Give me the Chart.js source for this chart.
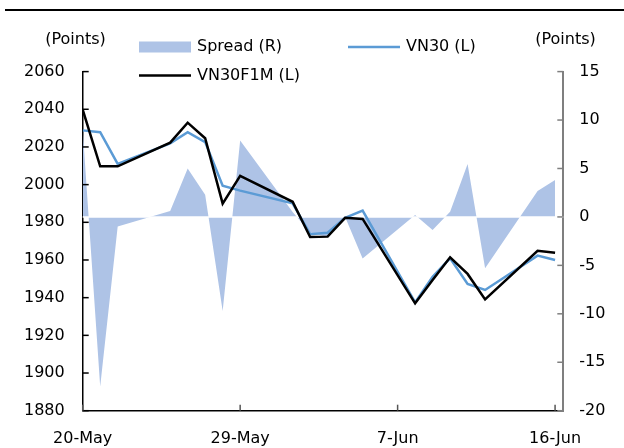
<!DOCTYPE html>
<html>
<head>
<meta charset="utf-8">
<script src="https://cdn.jsdelivr.net/npm/chart.js@4/dist/chart.umd.min.js"></script>
<style>
	html, body { margin: 0; padding: 0; background: #fff; }
	#wrap { width: 624px; height: 448px; position: relative; }
</style>
</head>
<body>
<div id="wrap"><canvas id="spreadChart"></canvas></div>
<script>
// trading days (2020)
const dates = [
	'2020-05-20', '2020-05-21', '2020-05-22', '2020-05-25', '2020-05-26',
	'2020-05-27', '2020-05-28', '2020-05-29', '2020-06-01', '2020-06-02',
	'2020-06-03', '2020-06-04', '2020-06-05', '2020-06-08', '2020-06-09',
	'2020-06-10', '2020-06-11', '2020-06-12', '2020-06-15', '2020-06-16'
];
// index closes (left axis)
const vn30 = [2028.8, 2027.8, 2011.0, 2021.9, 2027.8, 2022.6, 1999.4, 1996.8, 1990.1, 1973.7,
	1974.5, 1982.4, 1986.2, 1937.5, 1951.1, 1960.9, 1947.3, 1944.1, 1962.3, 1960.0];
const vn30f1m = [2039.8, 2009.7, 2009.7, 2022.3, 2032.9, 2024.6, 1989.9, 2004.7, 1990.9, 1972.2,
	1972.4, 1982.4, 1981.8, 1937.0, 1949.4, 1961.4, 1952.6, 1939.1, 1964.9, 1963.9];
// futures - index (right axis)
const spread = [9.0, -17.5, -1.0, 0.6, 5.0, 2.3, -9.7, 7.9, 0.5, -1.6,
	-2.1, 0.0, -4.3, 0.2, -1.35, 0.54, 5.46, -5.3, 2.68, 3.8];

// x axis ticks
const tickDates = ['2020-05-20', '2020-05-29', '2020-06-07', '2020-06-16'];
const tickLabels = ['20-May', '29-May', '7-Jun', '16-Jun'];
const axisTitle = '(Points)';

// days since first date, used as x position on the linear axis
const dayOf = s => (Date.parse(s) - Date.parse(dates[0])) / 86400000;
const xy = vals => vals.map((v, i) => ({ x: dayOf(dates[i]), y: v }));
const tickDays = tickDates.map(dayOf);

Chart.defaults.font.family = 'DejaVu Sans';
Chart.defaults.font.size = 16;
Chart.defaults.color = '#000';

// small plugin: zero rule, inward tick marks, titles, legend grid, top rule
const decorations = {
	id: 'decorations',
	afterDatasetDraw(chart, args) {
		if (args.index !== 0) return;
		const { ctx, chartArea: a } = chart;
		const y = chart.scales.y1.getPixelForValue(0);
		ctx.save();
		ctx.strokeStyle = '#fff';
		ctx.lineWidth = 1.5;
		ctx.beginPath();
		ctx.moveTo(a.left, y);
		ctx.lineTo(a.right, y);
		ctx.stroke();
		ctx.restore();
	},
	afterDraw(chart) {
		const { ctx, chartArea: a } = chart;
		ctx.save();

		// top rule
		ctx.strokeStyle = '#000';
		ctx.lineWidth = 2;
		ctx.beginPath();
		ctx.moveTo(5, 10);
		ctx.lineTo(624, 10);
		ctx.stroke();

		// inward ticks
		ctx.lineWidth = 1.5;
		ctx.strokeStyle = '#000';
		chart.scales.y.ticks.forEach(t => {
			const y = chart.scales.y.getPixelForValue(t.value);
			ctx.beginPath(); ctx.moveTo(a.left, y); ctx.lineTo(a.left + 6, y); ctx.stroke();
		});
		ctx.strokeStyle = '#7f7f7f';
		chart.scales.y1.ticks.forEach(t => {
			const y = chart.scales.y1.getPixelForValue(t.value);
			ctx.beginPath(); ctx.moveTo(a.right - 6, y); ctx.lineTo(a.right, y); ctx.stroke();
		});
		ctx.strokeStyle = '#555';
		tickDays.forEach(d => {
			const x = chart.scales.x.getPixelForValue(d);
			ctx.beginPath(); ctx.moveTo(x, a.bottom); ctx.lineTo(x, a.bottom - 6); ctx.stroke();
		});

		// axis titles
		ctx.fillStyle = '#000';
		ctx.font = '16px "DejaVu Sans"';
		ctx.textAlign = 'center';
		ctx.textBaseline = 'middle';
		ctx.fillText(axisTitle, 75.5, 40);
		ctx.fillText(axisTitle, 565.5, 40);

		// legend, two columns
		const slots = [[139, 47], [348, 47], [139, 75.5]];
		ctx.textAlign = 'left';
		chart.data.datasets.forEach((ds, i) => {
			const [x, y] = slots[i];
			if (ds.fill) {
				ctx.fillStyle = ds.backgroundColor;
				ctx.fillRect(x, y - 5.5, 52, 11);
			} else {
				ctx.strokeStyle = ds.borderColor;
				ctx.lineWidth = ds.borderWidth;
				ctx.beginPath(); ctx.moveTo(x, y); ctx.lineTo(x + 52, y); ctx.stroke();
			}
			ctx.fillStyle = '#000';
			ctx.fillText(ds.label, x + 58, y);
		});
		ctx.restore();
	}
};

const data = {
	datasets: [
		/** spread, area on right axis */
		{
			label: 'Spread (R)',
			data: xy(spread),
			yAxisID: 'y1',
			fill: 'origin',
			backgroundColor: '#aec3e6',
			borderWidth: 0,
			pointRadius: 0,
			order: 3
		},
		/** underlying index */
		{
			label: 'VN30 (L)',
			data: xy(vn30),
			yAxisID: 'y',
			borderColor: '#5b9bd5',
			borderWidth: 2.5,
			pointRadius: 0,
			fill: false,
			order: 2
		},
		/** front month futures */
		{
			label: 'VN30F1M (L)',
			data: xy(vn30f1m),
			yAxisID: 'y',
			borderColor: '#000',
			borderWidth: 2.5,
			pointRadius: 0,
			fill: false,
			order: 1
		}
	]
};

const config = {
	type: 'line',
	data: data,
	options: {
		responsive: true,
		maintainAspectRatio: false,
		animation: false,
		layout: { padding: { top: 71.6, left: 0, right: 0, bottom: 0 } },
		plugins: {
			legend: { display: false },
			tooltip: { enabled: false }
		},
		scales: {
			x: {
				type: 'linear',
				min: 0,
				max: 27.47,
				grid: { display: false, drawTicks: false },
				border: { color: '#000', width: 1.5 },
				afterBuildTicks: s => { s.ticks = tickDays.map(v => ({ value: v })); },
				afterFit: s => { s.height = 37.3; },
				ticks: {
					padding: 19,
					maxRotation: 0,
					callback: v => tickLabels[tickDays.indexOf(v)]
				}
			},
			y: {
				position: 'left',
				min: 1880,
				max: 2060,
				grid: { display: false, drawTicks: false },
				border: { color: '#000', width: 1.5 },
				afterFit: s => { s.width = 82.7; },
				ticks: { stepSize: 20, padding: 18, callback: v => String(v) }
			},
			y1: {
				position: 'right',
				min: -20,
				max: 15,
				grid: { display: false, drawTicks: false },
				border: { color: '#7f7f7f', width: 2 },
				afterFit: s => { s.width = 60.7; },
				ticks: { stepSize: 5, padding: 16, callback: v => String(v) }
			}
		}
	},
	plugins: [decorations]
};

const spreadChart = new Chart(document.getElementById('spreadChart'), config);
</script>
</body>
</html>
